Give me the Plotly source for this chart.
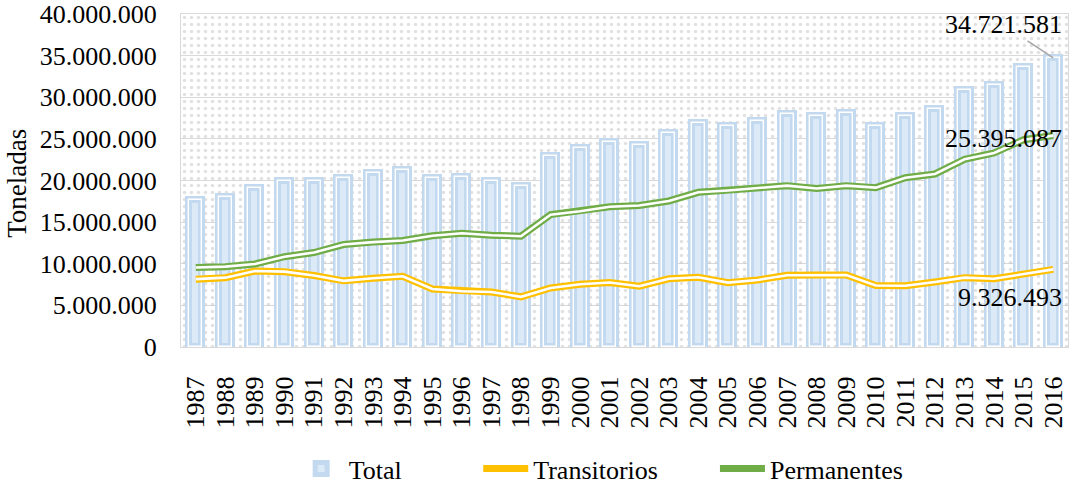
import plotly.graph_objects as go

years = [str(y) for y in range(1987, 2017)]

total = [17600000, 18000000, 19100000, 19900000, 19950000, 20250000, 20850000, 21300000,
         20350000, 20400000, 20000000, 19300000, 23000000, 23850000, 24600000, 24300000,
         25750000, 26950000, 26500000, 27150000, 28000000, 27700000, 28050000, 26550000,
         27700000, 28600000, 30900000, 31500000, 33650000, 34721581]

transitorios = [8150000, 8330000, 9130000, 9050000, 8590000, 7950000, 8250000, 8490000,
                6970000, 6700000, 6600000, 6030000, 7090000, 7530000, 7750000, 7300000,
                8190000, 8370000, 7730000, 8050000, 8620000, 8650000, 8650000, 7390000,
                7350000, 7810000, 8330000, 8200000, 8750000, 9326493]

permanentes = [9550000, 9650000, 9970000, 10850000, 11350000, 12310000, 12600000, 12800000,
               13370000, 13670000, 13430000, 13310000, 15900000, 16300000, 16850000, 17000000,
               17540000, 18580000, 18800000, 19120000, 19380000, 19040000, 19380000, 19140000,
               20340000, 20780000, 22540000, 23300000, 24900000, 25395087]

y_max = 40000000
background = [y_max] * len(years)

FONT = "Liberation Serif, Times New Roman, serif"
BLUE_LINE = "#c3d9ef"
BLUE_FILL = "#dce9f6"
YELLOW = "#ffc000"
GREEN = "#70ad47"

fig = go.Figure()

# dotted plot-area background
fig.add_trace(go.Bar(
    x=years, y=background, width=1.0, showlegend=False, hoverinfo="skip",
    marker=dict(color="rgba(0,0,0,0)", line=dict(width=0),
                pattern=dict(shape=".", fgcolor="#c4c4c4", size=7, solidity=0.2)),
))

# Total bars (compound outline)
fig.add_trace(go.Bar(
    x=years, y=total, name="Total" + "\u00a0" * 11, width=0.44,
    marker=dict(color=BLUE_FILL, line=dict(color=BLUE_LINE, width=7)),
))
fig.add_trace(go.Bar(
    x=years, y=total, width=0.44, showlegend=False, hoverinfo="skip",
    marker=dict(color="rgba(0,0,0,0)", line=dict(color="white", width=1.4)),
))

# Lines (double-line look)
for name, vals, col in [("Transitorios" + "\u00a0" * 8, transitorios, YELLOW),
                        ("Permanentes", permanentes, GREEN)]:
    fig.add_trace(go.Scatter(x=years, y=vals, name=name, mode="lines",
                             line=dict(color=col, width=7)))
    fig.add_trace(go.Scatter(x=years, y=vals, mode="lines", showlegend=False, hoverinfo="skip",
                             line=dict(color="white", width=2.6)))

last = len(years) - 1
ann_font = dict(family=FONT, size=26, color="black")
fig.add_annotation(x=last, y=total[-1], text="34.721.581", showarrow=True,
                   ax=-50, ay=-33, arrowhead=0, arrowwidth=1.5, arrowcolor="#a6a6a6",
                   standoff=0, font=ann_font)
fig.add_annotation(x=last, y=permanentes[-1], text="25.395.087", showarrow=False,
                   xshift=-50, yshift=-3, font=ann_font)
fig.add_annotation(x=last, y=transitorios[-1], text="9.326.493", showarrow=False,
                   xshift=-43, yshift=-28, font=ann_font)
# y-axis title
fig.add_annotation(xref="paper", yref="paper", x=(17 - 181) / 887, y=0.49,
                   xanchor="center", yanchor="middle", text="Toneladas", textangle=-90,
                   showarrow=False, font=dict(family=FONT, size=27, color="black"))

fig.update_layout(
    width=1070, height=484,
    margin=dict(l=181, r=2, t=14, b=137, autoexpand=False),
    paper_bgcolor="white", plot_bgcolor="white",
    barmode="overlay", bargap=0,
    separators=",.",
    font=dict(family=FONT, size=26, color="black"),
    hovermode=False,
    legend=dict(orientation="h", x=0.127, xanchor="left", y=-0.365, yanchor="middle",
                font=dict(family=FONT, size=26), traceorder="normal", itemwidth=45),
    xaxis=dict(type="category", range=[-0.5, last + 0.5], tickangle=-90, showgrid=False,
               tickmode="array", tickvals=years, ticktext=years, automargin=False,
               showline=True, linecolor="#d9d9d9", linewidth=1, mirror=True, ticks="",
               tickfont=dict(family=FONT, size=26), ticklabelstandoff=18),
    yaxis=dict(range=[0, y_max], tickvals=list(range(0, y_max + 1, 5000000)),
               tickformat=",d", showgrid=True, gridcolor="#d9d9d9", gridwidth=1,
               showline=True, linecolor="#d9d9d9", mirror=True, zeroline=False,
               automargin=False,
               tickfont=dict(family=FONT, size=26), ticklabelstandoff=18),
)

fig.write_html("out.html", config={"displayModeBar": False},
               post_script="document.body.style.margin='0';")
